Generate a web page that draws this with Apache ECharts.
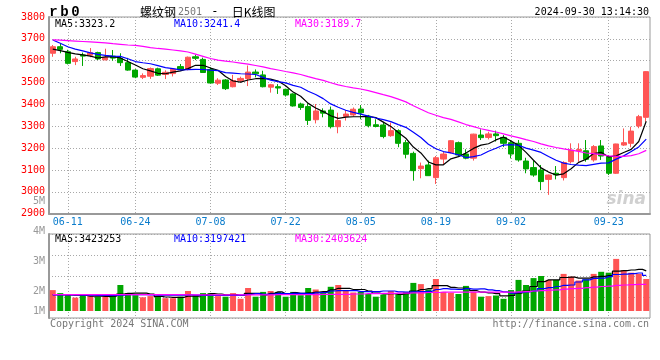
<!DOCTYPE html>
<html><head><meta charset="utf-8">
<script src="https://cdn.jsdelivr.net/npm/echarts@6/dist/echarts.min.js"></script>
<style>html,body{margin:0;padding:0;background:#fff;}#c{width:660px;height:360px;}</style>
</head><body><div id="c"></div>
<script>
// ---- data ----
const dates = ['06-06','06-07','06-11','06-12','06-13','06-14','06-17','06-18','06-19','06-20',
'06-21','06-24','06-25','06-26','06-27','06-28','07-01','07-02','07-03','07-04',
'07-05','07-08','07-09','07-10','07-11','07-12','07-15','07-16','07-17','07-18',
'07-19','07-22','07-23','07-24','07-25','07-26','07-29','07-30','07-31','08-01',
'08-02','08-05','08-06','08-07','08-08','08-09','08-12','08-13','08-14','08-15',
'08-16','08-19','08-20','08-21','08-22','08-23','08-26','08-27','08-28','08-29',
'08-30','09-02','09-03','09-04','09-05','09-06','09-09','09-10','09-11','09-12',
'09-13','09-18','09-19','09-20','09-23','09-24','09-25','09-26','09-27','09-30'];
const opens = [3634,3664,3641,3596,3626,3625,3637,3604,3621,3611,
3591,3557,3524,3529,3563,3537,3541,3573,3561,3618,
3606,3560,3497,3512,3481,3510,3518,3548,3535,3479,
3481,3469,3448,3402,3390,3330,3370,3374,3298,3345,
3352,3379,3347,3307,3306,3257,3280,3225,3176,3106,
3123,3065,3150,3179,3225,3173,3154,3260,3249,3265,
3249,3225,3222,3141,3111,3100,3057,3085,3065,3138,
3188,3188,3146,3210,3161,3085,3214,3222,3301,3341];
const highs = [3672,3678,3650,3618,3637,3658,3641,3655,3649,3634,
3613,3561,3542,3569,3568,3556,3566,3585,3619,3628,
3614,3570,3520,3516,3535,3527,3578,3560,3554,3494,
3493,3472,3451,3408,3405,3402,3382,3390,3362,3374,
3386,3397,3352,3332,3321,3317,3286,3237,3184,3134,
3143,3164,3184,3237,3230,3195,3266,3286,3275,3280,
3260,3237,3237,3156,3141,3123,3079,3118,3140,3222,
3222,3237,3214,3237,3168,3220,3290,3298,3352,3552];
const lows = [3618,3634,3583,3580,3576,3616,3603,3602,3600,3576,
3554,3520,3516,3517,3530,3516,3528,3555,3556,3603,
3545,3496,3489,3466,3478,3500,3484,3524,3478,3454,
3448,3436,3390,3375,3306,3313,3341,3290,3268,3326,
3345,3332,3295,3295,3245,3252,3204,3153,3051,3062,
3073,3036,3127,3176,3164,3149,3143,3237,3240,3230,
3205,3153,3138,3085,3069,3008,2986,3057,3052,3130,
3138,3138,3138,3146,3077,3082,3210,3204,3291,3321];
const closes = [3664,3652,3588,3608,3621,3637,3608,3615,3612,3591,
3557,3525,3532,3564,3534,3547,3561,3561,3616,3611,
3546,3498,3511,3472,3509,3519,3548,3540,3481,3490,
3475,3443,3393,3386,3327,3370,3360,3298,3326,3356,
3378,3362,3303,3299,3253,3280,3222,3172,3097,3118,
3074,3156,3173,3234,3169,3154,3264,3248,3265,3257,
3222,3173,3146,3105,3077,3047,3077,3078,3134,3191,
3194,3149,3207,3164,3085,3219,3225,3278,3344,3550];
const ma5 = [3653,3646,3638,3631,3626.6,3621.2,3612.4,3617.8,3618.6,3612.6,
3596.6,3580.0,3563.4,3553.8,3542.4,3540.4,3547.6,3553.4,3563.8,3579.2,
3579.0,3566.4,3556.4,3527.6,3507.2,3501.8,3511.8,3517.6,3519.4,3515.6,
3506.8,3485.8,3456.4,3437.4,3404.8,3383.8,3367.2,3348.2,3336.2,3342.0,
3343.6,3344.0,3345.0,3339.6,3319.0,3299.4,3271.4,3245.2,3204.8,3177.8,
3136.6,3123.4,3123.6,3151.0,3161.2,3177.2,3198.8,3213.8,3220.0,3237.6,
3251.2,3233.0,3212.6,3180.6,3144.6,3109.6,3090.4,3076.8,3082.6,3105.4,
3134.8,3149.2,3175.0,3181.0,3159.8,3164.8,3180.0,3194.2,3230.2,3323.2];
const ma10 = [3695,3680,3664,3653,3645,3636,3629,3624,3621,3619.6,
3608.9,3596.2,3590.6,3586.2,3577.5,3568.5,3563.8,3558.4,3558.8,3560.8,
3559.7,3557.0,3554.9,3545.7,3543.2,3540.4,3539.1,3537.0,3523.5,3511.4,
3504.3,3498.8,3487.0,3478.4,3460.2,3445.3,3426.5,3402.3,3386.8,3373.4,
3363.7,3355.6,3346.6,3337.9,3330.5,3321.5,3307.7,3295.1,3272.2,3248.4,
3218.0,3197.4,3184.4,3177.9,3169.5,3156.9,3161.1,3168.7,3185.5,3199.4,
3214.2,3215.9,3213.2,3200.3,3191.1,3180.4,3161.7,3144.7,3131.6,3125.0,
3122.2,3119.8,3125.9,3131.8,3132.6,3149.8,3164.6,3184.6,3205.6,3241.4];
const ma30 = [3695,3694,3692,3690,3688,3686,3684,3682,3678,3675,
3672,3670,3666,3660,3656,3653,3649,3645,3640,3630,
3620,3610,3603,3598,3594,3589,3584,3578,3572,3563.9,
3557.6,3550.7,3544.2,3536.8,3527.0,3518.1,3509.8,3499.2,3489.7,3481.9,
3475.9,3470.5,3462.8,3454.0,3444.6,3435.7,3424.4,3411.5,3394.2,3377.7,
3362.0,3350.6,3339.3,3331.4,3320.1,3307.9,3298.4,3288.7,3281.5,3273.7,
3265.3,3256.3,3248.1,3238.7,3230.4,3219.6,3210.2,3202.8,3196.4,3190.9,
3184.8,3177.7,3174.5,3170.0,3164.4,3162.4,3162.5,3166.0,3174.2,3189.7];
// volume (millions, on the panel's printed scale)
const volumes = [2.03,1.93,1.86,1.78,1.86,1.83,1.81,1.81,1.86,2.20,
1.93,1.86,1.79,1.83,1.81,1.76,1.76,1.81,2.00,1.86,
1.93,1.93,1.83,1.81,1.93,1.74,2.10,1.81,1.97,2.00,
1.97,1.81,1.97,1.86,2.10,2.05,1.95,2.14,2.20,2.00,
1.95,1.97,1.90,1.81,1.88,2.00,1.88,1.97,2.27,2.23,
2.05,2.40,1.97,1.94,1.90,2.17,1.97,1.81,1.83,1.85,
1.74,2.03,2.37,2.20,2.43,2.50,2.37,2.37,2.57,2.48,
2.35,2.39,2.57,2.64,2.61,3.07,2.70,2.61,2.57,2.40];
const volMa5 = [1.88,1.88,1.87,1.86,1.85,1.83,1.83,1.82,1.83,1.90,
1.92,1.93,1.93,1.90,1.82,1.80,1.79,1.79,1.83,1.83,
1.87,1.91,1.90,1.87,1.88,1.85,1.92,1.92,1.87,1.92,
1.97,1.91,1.95,1.92,1.94,1.96,1.98,2.04,2.09,2.09,
2.05,2.05,2.00,1.93,1.90,1.91,1.89,1.91,2.00,2.05,
2.08,2.18,2.18,2.12,2.10,2.09,2.01,1.96,1.94,1.91,
1.84,1.85,1.93,2.00,2.15,2.31,2.37,2.37,2.45,2.46,
2.43,2.43,2.47,2.49,2.51,2.66,2.68,2.70,2.72,2.67];
const volMa10 = [1.87,1.87,1.87,1.87,1.86,1.86,1.85,1.85,1.85,1.86,
1.88,1.88,1.88,1.87,1.86,1.86,1.86,1.86,1.87,1.86,
1.85,1.85,1.85,1.85,1.85,1.86,1.89,1.91,1.89,1.90,
1.92,1.91,1.92,1.92,1.91,1.94,1.95,2.00,2.01,2.01,
2.01,1.98,1.98,1.98,2.00,2.00,1.97,1.96,1.97,1.98,
1.99,2.05,2.08,2.06,2.05,2.08,2.06,2.07,2.04,2.01,
1.97,1.93,1.95,1.97,2.00,2.08,2.11,2.15,2.19,2.20,
2.30,2.37,2.42,2.43,2.48,2.55,2.56,2.58,2.60,2.52];
const volMa30 = [1.88,1.88,1.88,1.88,1.88,1.88,1.88,1.88,1.88,1.88,
1.88,1.88,1.88,1.88,1.88,1.88,1.88,1.88,1.87,1.87,
1.87,1.87,1.87,1.87,1.87,1.87,1.87,1.87,1.87,1.87,
1.88,1.88,1.88,1.88,1.88,1.88,1.89,1.89,1.89,1.89,
1.90,1.90,1.91,1.91,1.92,1.92,1.93,1.93,1.94,1.94,
1.95,1.95,1.96,1.96,1.96,1.96,1.96,1.96,1.96,1.96,
1.96,1.96,1.97,1.98,2.00,2.01,2.03,2.04,2.06,2.08,
2.09,2.11,2.13,2.15,2.16,2.19,2.20,2.21,2.22,2.22];
const labelDates = ['06-11','06-24','07-08','07-22','08-05','08-19','09-02','09-23'];
const priceMin = 2900, priceMax = 3800, priceStep = 100;
const volTickLabels = [1,2,3,4,5]; // millions
const volLegend = {ma5: '3423253', ma10: '3197421', ma30: '2403624'};
const stamp = '2024-09-30 13:14:30';

// ---- chart ----
const RED = '#ff5555', GREEN = '#00a600';
const MONO = '"DejaVu Sans Mono", monospace';
const GRID_LINE = {color: '#a8a8a8', type: [1, 2], width: 1};
const isLabel = (i) => labelDates.indexOf(dates[i]) >= 0;
const M = 1e6;
const candle = dates.map((d, i) => [opens[i], closes[i], lows[i], highs[i]]);
const volBars = volumes.map((v, i) => ({value: v * M,
  itemStyle: {color: closes[i] >= opens[i] ? RED : GREEN}}));

const chart = echarts.init(document.getElementById('c'), null, {renderer: 'canvas'});
const last = (a) => a[a.length - 1];
const L = 49, W = 601;
chart.setOption({
  animation: false,
  backgroundColor: '#fff',
  grid: [
    {left: L, width: W, top: 17, height: 196.7, show: true, borderColor: '#999', borderWidth: 1, outerBoundsMode: 'none'},
    {left: L, width: W, top: 234, height: 77, outerBoundsMode: 'none'},
    {left: L, width: W, top: 234, height: 84, show: true, borderColor: '#999', borderWidth: 1, outerBoundsMode: 'none'},
    {left: L, width: W, top: 201, height: 120, outerBoundsMode: 'none'}
  ],
  xAxis: [
    {type: 'category', gridIndex: 0, data: dates, boundaryGap: true,
     axisLine: {show: true, lineStyle: {color: '#999', width: 2}}, axisTick: {show: false},
     axisLabel: {interval: (i) => isLabel(i), color: '#0a7ccc', fontFamily: MONO, fontSize: 10, margin: 4},
     splitLine: {show: true, interval: (i) => isLabel(i), alignWithLabel: true, lineStyle: GRID_LINE}},
    {type: 'category', gridIndex: 1, data: dates, boundaryGap: true, show: false},
    {type: 'category', gridIndex: 2, data: dates, boundaryGap: true,
     axisLine: {show: false}, axisTick: {show: false}, axisLabel: {show: false},
     splitLine: {show: true, interval: (i) => isLabel(i), alignWithLabel: true, lineStyle: GRID_LINE}},
    {type: 'category', gridIndex: 3, data: dates, show: false}
  ],
  yAxis: [
    {type: 'value', gridIndex: 0, min: priceMin, max: priceMax, interval: priceStep,
     axisLine: {show: true, lineStyle: {color: '#999', width: 2}}, axisTick: {show: false},
     axisLabel: {color: '#ff0000', fontFamily: MONO, fontSize: 10, margin: 4,
       formatter: (v) => String(v), padding: [0, 0, 3, 0]},
     splitLine: {show: true, lineStyle: GRID_LINE}},
    {type: 'value', gridIndex: 1, min: 4 / 3 * M, max: 3.9 * M, show: false, splitLine: {show: false}},
    {type: 'value', gridIndex: 2, min: 0, max: 4, interval: 1,
     axisLine: {show: true, lineStyle: {color: '#999', width: 2}}, axisTick: {show: false}, axisLabel: {show: false},
     splitLine: {show: true, lineStyle: GRID_LINE}},
    {type: 'value', gridIndex: 3, min: volTickLabels[0] * M, max: last(volTickLabels) * M, interval: M,
     axisLine: {show: false}, axisTick: {show: false}, splitLine: {show: false},
     axisLabel: {color: '#999', fontFamily: MONO, fontSize: 10, margin: 4,
       formatter: (v) => (v / M === 1 ? '{up|1M}' : (v / M) + 'M'),
       rich: {up: {color: '#999', fontFamily: MONO, fontSize: 10, padding: [0, 0, 20, 0]}}}}
  ],
  series: [
    {type: 'candlestick', xAxisIndex: 0, yAxisIndex: 0, data: candle, barWidth: 5.7,
     itemStyle: {color: RED, color0: GREEN, borderColor: RED, borderColor0: GREEN, borderWidth: 1}},
    {type: 'line', xAxisIndex: 0, yAxisIndex: 0, data: ma5, symbol: 'none', lineStyle: {color: '#000', width: 1.2}},
    {type: 'line', xAxisIndex: 0, yAxisIndex: 0, data: ma10, symbol: 'none', lineStyle: {color: '#0000ff', width: 1.2}},
    {type: 'line', xAxisIndex: 0, yAxisIndex: 0, data: ma30, symbol: 'none', lineStyle: {color: '#ff00ff', width: 1.2}},
    {type: 'bar', xAxisIndex: 1, yAxisIndex: 1, data: volBars, barWidth: 6},
    {type: 'line', xAxisIndex: 1, yAxisIndex: 1, data: volMa5.map(v => v * M), step: 'middle', symbol: 'none', lineStyle: {color: '#000', width: 1.2}},
    {type: 'line', xAxisIndex: 1, yAxisIndex: 1, data: volMa10.map(v => v * M), step: 'middle', symbol: 'none', lineStyle: {color: '#0000ff', width: 1.2}},
    {type: 'line', xAxisIndex: 1, yAxisIndex: 1, data: volMa30.map(v => v * M), step: 'middle', symbol: 'none', lineStyle: {color: '#ff00ff', width: 1.2}}
  ],
  graphic: [
    {type: 'text', x: 48, y: 12, style: {text: '{a|r}{a|b}{a|0}', verticalAlign: 'middle',
      rich: {a: {width: 11, align: 'center', font: 'bold 14px "Liberation Mono", monospace', fill: '#000'}}}},
    {type: 'text', x: 140, y: 12, style: {text: '{c|螺纹钢}{n|2501}{d| - }{c|日K线图}', verticalAlign: 'middle',
      rich: {c: {font: '12px "Noto Sans CJK SC", sans-serif', fill: '#000'},
             n: {font: '10px ' + MONO, fill: '#777', padding: [0, 0, 0, 2]},
             d: {font: '12px ' + MONO, fill: '#000', padding: [0, 6, 0, 2]}}}},
    {type: 'text', x: 649, y: 12, style: {text: stamp, align: 'right', verticalAlign: 'middle', font: '10px ' + MONO, fill: '#000'}},
    {type: 'text', x: 55, y: 24, style: {text: 'MA5:' + last(ma5).toFixed(1), verticalAlign: 'middle', font: '10px ' + MONO, fill: '#000'}},
    {type: 'text', x: 174, y: 24, style: {text: 'MA10:' + last(ma10).toFixed(1), verticalAlign: 'middle', font: '10px ' + MONO, fill: '#0000ff'}},
    {type: 'text', x: 295, y: 24, style: {text: 'MA30:' + last(ma30).toFixed(1), verticalAlign: 'middle', font: '10px ' + MONO, fill: '#ff00ff'}},
    {type: 'text', x: 55, y: 239, style: {text: 'MA5:' + volLegend.ma5, verticalAlign: 'middle', font: '10px ' + MONO, fill: '#000'}},
    {type: 'text', x: 174, y: 239, style: {text: 'MA10:' + volLegend.ma10, verticalAlign: 'middle', font: '10px ' + MONO, fill: '#0000ff'}},
    {type: 'text', x: 295, y: 239, style: {text: 'MA30:' + volLegend.ma30, verticalAlign: 'middle', font: '10px ' + MONO, fill: '#ff00ff'}},
    {type: 'text', x: 50, y: 324, style: {text: 'Copyright 2024 SINA.COM', verticalAlign: 'middle', font: '10px ' + MONO, fill: '#777'}},
    {type: 'text', x: 649, y: 324, style: {text: 'http://finance.sina.com.cn', align: 'right', verticalAlign: 'middle', font: '10px ' + MONO, fill: '#777'}},
    {type: 'text', x: 646, y: 200, style: {text: 'sina', align: 'right', verticalAlign: 'middle', font: 'italic bold 17px "DejaVu Sans", sans-serif', fill: 'rgba(170,170,170,0.55)'}}
  ]
});
</script></body></html>
